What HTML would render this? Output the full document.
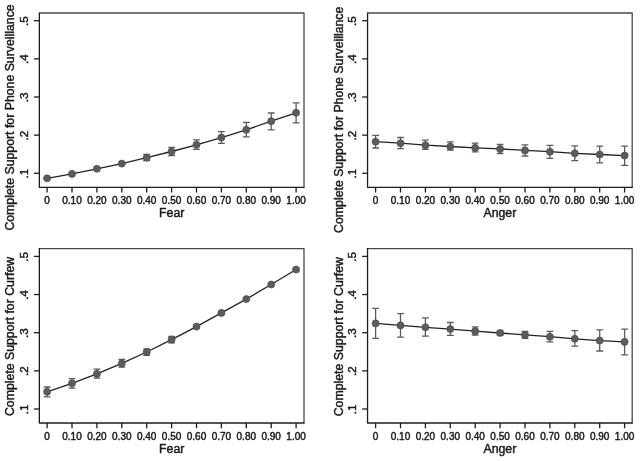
<!DOCTYPE html>
<html><head><meta charset="utf-8"><title>Complete support by emotion</title>
<style>
html,body{margin:0;padding:0;background:#fff;}
body{width:640px;height:461px;overflow:hidden;}
svg{display:block;}
</style></head><body>
<svg width="640" height="461" viewBox="0 0 640 461" font-family="'Liberation Sans', Arial, Helvetica, sans-serif" stroke-linecap="butt" stroke-linejoin="round">
<style>text{stroke:#1a1a1a;stroke-width:0.45px;}</style>
<rect width="640" height="461" fill="#fff"/>
<g transform="translate(0 0)"><path d="M39.35 13H304V187.3" fill="none" stroke="#4a4a4a" stroke-width="1.3"/>
<path d="M146.7 154.4V160.6M143.3 154.4H150.1M143.3 160.6H150.1" stroke="#5c5c5c" stroke-width="1.3" fill="none"/>
<path d="M171.6 147.4V155.6M168.2 147.4H175M168.2 155.6H175" stroke="#5c5c5c" stroke-width="1.3" fill="none"/>
<path d="M196.5 139.9V149.3M193.1 139.9H199.9M193.1 149.3H199.9" stroke="#5c5c5c" stroke-width="1.3" fill="none"/>
<path d="M221.4 131.7V143.4M218 131.7H224.8M218 143.4H224.8" stroke="#5c5c5c" stroke-width="1.3" fill="none"/>
<path d="M246.3 122.3V136.9M242.9 122.3H249.7M242.9 136.9H249.7" stroke="#5c5c5c" stroke-width="1.3" fill="none"/>
<path d="M271.2 113V129.8M267.8 113H274.6M267.8 129.8H274.6" stroke="#5c5c5c" stroke-width="1.3" fill="none"/>
<path d="M296.1 102.9V122.8M292.7 102.9H299.5M292.7 122.8H299.5" stroke="#5c5c5c" stroke-width="1.3" fill="none"/>
<path d="M47.1 178.3 L72 173.9 L96.9 168.8 L121.8 163.6 L146.7 157.6 L171.6 151.5 L196.5 144.8 L221.4 137.6 L246.3 129.8 L271.2 121.2 L296.1 112.8" stroke="#222222" stroke-width="1.3" fill="none"/>
<circle cx="47.1" cy="178.3" r="3.55" fill="#5c5c5c" stroke="#474747" stroke-width="0.6"/>
<circle cx="72" cy="173.9" r="3.55" fill="#5c5c5c" stroke="#474747" stroke-width="0.6"/>
<circle cx="96.9" cy="168.8" r="3.55" fill="#5c5c5c" stroke="#474747" stroke-width="0.6"/>
<circle cx="121.8" cy="163.6" r="3.55" fill="#5c5c5c" stroke="#474747" stroke-width="0.6"/>
<circle cx="146.7" cy="157.6" r="3.55" fill="#5c5c5c" stroke="#474747" stroke-width="0.6"/>
<circle cx="171.6" cy="151.5" r="3.55" fill="#5c5c5c" stroke="#474747" stroke-width="0.6"/>
<circle cx="196.5" cy="144.8" r="3.55" fill="#5c5c5c" stroke="#474747" stroke-width="0.6"/>
<circle cx="221.4" cy="137.6" r="3.55" fill="#5c5c5c" stroke="#474747" stroke-width="0.6"/>
<circle cx="246.3" cy="129.8" r="3.55" fill="#5c5c5c" stroke="#474747" stroke-width="0.6"/>
<circle cx="271.2" cy="121.2" r="3.55" fill="#5c5c5c" stroke="#474747" stroke-width="0.6"/>
<circle cx="296.1" cy="112.8" r="3.55" fill="#5c5c5c" stroke="#474747" stroke-width="0.6"/>
<path d="M39.35 12.4V187.3H304.6" fill="none" stroke="#1c1c1c" stroke-width="1.3"/>
<path d="M33.95 173.3H39.35" stroke="#1c1c1c" stroke-width="1.3"/>
<text x="0" y="0" transform="translate(28.2 173.7) rotate(-90)" text-anchor="middle" font-size="11.6" fill="#1a1a1a">.1</text>
<path d="M33.95 135.15H39.35" stroke="#1c1c1c" stroke-width="1.3"/>
<text x="0" y="0" transform="translate(28.2 135.55) rotate(-90)" text-anchor="middle" font-size="11.6" fill="#1a1a1a">.2</text>
<path d="M33.95 97H39.35" stroke="#1c1c1c" stroke-width="1.3"/>
<text x="0" y="0" transform="translate(28.2 97.4) rotate(-90)" text-anchor="middle" font-size="11.6" fill="#1a1a1a">.3</text>
<path d="M33.95 58.85H39.35" stroke="#1c1c1c" stroke-width="1.3"/>
<text x="0" y="0" transform="translate(28.2 59.25) rotate(-90)" text-anchor="middle" font-size="11.6" fill="#1a1a1a">.4</text>
<path d="M33.95 20.7H39.35" stroke="#1c1c1c" stroke-width="1.3"/>
<text x="0" y="0" transform="translate(28.2 21.1) rotate(-90)" text-anchor="middle" font-size="11.6" fill="#1a1a1a">.5</text>
<path d="M47.1 187.3V192.5" stroke="#1c1c1c" stroke-width="1.3"/>
<text x="47.1" y="203.6" text-anchor="middle" font-size="10" fill="#1a1a1a">0</text>
<path d="M72 187.3V192.5" stroke="#1c1c1c" stroke-width="1.3"/>
<text x="72" y="203.6" text-anchor="middle" font-size="10" fill="#1a1a1a">0.10</text>
<path d="M96.9 187.3V192.5" stroke="#1c1c1c" stroke-width="1.3"/>
<text x="96.9" y="203.6" text-anchor="middle" font-size="10" fill="#1a1a1a">0.20</text>
<path d="M121.8 187.3V192.5" stroke="#1c1c1c" stroke-width="1.3"/>
<text x="121.8" y="203.6" text-anchor="middle" font-size="10" fill="#1a1a1a">0.30</text>
<path d="M146.7 187.3V192.5" stroke="#1c1c1c" stroke-width="1.3"/>
<text x="146.7" y="203.6" text-anchor="middle" font-size="10" fill="#1a1a1a">0.40</text>
<path d="M171.6 187.3V192.5" stroke="#1c1c1c" stroke-width="1.3"/>
<text x="171.6" y="203.6" text-anchor="middle" font-size="10" fill="#1a1a1a">0.50</text>
<path d="M196.5 187.3V192.5" stroke="#1c1c1c" stroke-width="1.3"/>
<text x="196.5" y="203.6" text-anchor="middle" font-size="10" fill="#1a1a1a">0.60</text>
<path d="M221.4 187.3V192.5" stroke="#1c1c1c" stroke-width="1.3"/>
<text x="221.4" y="203.6" text-anchor="middle" font-size="10" fill="#1a1a1a">0.70</text>
<path d="M246.3 187.3V192.5" stroke="#1c1c1c" stroke-width="1.3"/>
<text x="246.3" y="203.6" text-anchor="middle" font-size="10" fill="#1a1a1a">0.80</text>
<path d="M271.2 187.3V192.5" stroke="#1c1c1c" stroke-width="1.3"/>
<text x="271.2" y="203.6" text-anchor="middle" font-size="10" fill="#1a1a1a">0.90</text>
<path d="M296.1 187.3V192.5" stroke="#1c1c1c" stroke-width="1.3"/>
<text x="296.1" y="203.6" text-anchor="middle" font-size="10" fill="#1a1a1a">1.00</text>
<text x="171.68" y="217.3" text-anchor="middle" font-size="12.3" fill="#1a1a1a">Fear</text>
<text x="0" y="0" transform="translate(14.1 230.6) rotate(-90)" font-size="12.3" fill="#1a1a1a">Complete Support for Phone Surveillance</text></g>
<g transform="translate(328.2 0)"><path d="M39.35 13H304V187.3" fill="none" stroke="#4a4a4a" stroke-width="1.3"/>
<path d="M47.4 135.3V148M44 135.3H50.8M44 148H50.8" stroke="#5c5c5c" stroke-width="1.3" fill="none"/>
<path d="M72.3 137.5V148.7M68.9 137.5H75.7M68.9 148.7H75.7" stroke="#5c5c5c" stroke-width="1.3" fill="none"/>
<path d="M97.2 140.1V149.3M93.8 140.1H100.6M93.8 149.3H100.6" stroke="#5c5c5c" stroke-width="1.3" fill="none"/>
<path d="M122.1 141.9V150.2M118.7 141.9H125.5M118.7 150.2H125.5" stroke="#5c5c5c" stroke-width="1.3" fill="none"/>
<path d="M147 143.2V151.9M143.6 143.2H150.4M143.6 151.9H150.4" stroke="#5c5c5c" stroke-width="1.3" fill="none"/>
<path d="M171.9 144.3V153.5M168.5 144.3H175.3M168.5 153.5H175.3" stroke="#5c5c5c" stroke-width="1.3" fill="none"/>
<path d="M196.8 144.9V156M193.4 144.9H200.2M193.4 156H200.2" stroke="#5c5c5c" stroke-width="1.3" fill="none"/>
<path d="M221.7 145.4V158.3M218.3 145.4H225.1M218.3 158.3H225.1" stroke="#5c5c5c" stroke-width="1.3" fill="none"/>
<path d="M246.6 145.8V160.6M243.2 145.8H250M243.2 160.6H250" stroke="#5c5c5c" stroke-width="1.3" fill="none"/>
<path d="M271.5 146.1V162.8M268.1 146.1H274.9M268.1 162.8H274.9" stroke="#5c5c5c" stroke-width="1.3" fill="none"/>
<path d="M296.4 146.1V165.3M293 146.1H299.8M293 165.3H299.8" stroke="#5c5c5c" stroke-width="1.3" fill="none"/>
<path d="M47.4 141.7 L72.3 143.2 L97.2 145.2 L122.1 146.5 L147 147.8 L171.9 148.9 L196.8 150.4 L221.7 151.7 L246.6 153.3 L271.5 154.5 L296.4 155.6" stroke="#222222" stroke-width="1.3" fill="none"/>
<circle cx="47.4" cy="141.7" r="3.55" fill="#5c5c5c" stroke="#474747" stroke-width="0.6"/>
<circle cx="72.3" cy="143.2" r="3.55" fill="#5c5c5c" stroke="#474747" stroke-width="0.6"/>
<circle cx="97.2" cy="145.2" r="3.55" fill="#5c5c5c" stroke="#474747" stroke-width="0.6"/>
<circle cx="122.1" cy="146.5" r="3.55" fill="#5c5c5c" stroke="#474747" stroke-width="0.6"/>
<circle cx="147" cy="147.8" r="3.55" fill="#5c5c5c" stroke="#474747" stroke-width="0.6"/>
<circle cx="171.9" cy="148.9" r="3.55" fill="#5c5c5c" stroke="#474747" stroke-width="0.6"/>
<circle cx="196.8" cy="150.4" r="3.55" fill="#5c5c5c" stroke="#474747" stroke-width="0.6"/>
<circle cx="221.7" cy="151.7" r="3.55" fill="#5c5c5c" stroke="#474747" stroke-width="0.6"/>
<circle cx="246.6" cy="153.3" r="3.55" fill="#5c5c5c" stroke="#474747" stroke-width="0.6"/>
<circle cx="271.5" cy="154.5" r="3.55" fill="#5c5c5c" stroke="#474747" stroke-width="0.6"/>
<circle cx="296.4" cy="155.6" r="3.55" fill="#5c5c5c" stroke="#474747" stroke-width="0.6"/>
<path d="M39.35 12.4V187.3H304.6" fill="none" stroke="#1c1c1c" stroke-width="1.3"/>
<path d="M33.95 173.3H39.35" stroke="#1c1c1c" stroke-width="1.3"/>
<text x="0" y="0" transform="translate(28.2 173.7) rotate(-90)" text-anchor="middle" font-size="11.6" fill="#1a1a1a">.1</text>
<path d="M33.95 135.15H39.35" stroke="#1c1c1c" stroke-width="1.3"/>
<text x="0" y="0" transform="translate(28.2 135.55) rotate(-90)" text-anchor="middle" font-size="11.6" fill="#1a1a1a">.2</text>
<path d="M33.95 97H39.35" stroke="#1c1c1c" stroke-width="1.3"/>
<text x="0" y="0" transform="translate(28.2 97.4) rotate(-90)" text-anchor="middle" font-size="11.6" fill="#1a1a1a">.3</text>
<path d="M33.95 58.85H39.35" stroke="#1c1c1c" stroke-width="1.3"/>
<text x="0" y="0" transform="translate(28.2 59.25) rotate(-90)" text-anchor="middle" font-size="11.6" fill="#1a1a1a">.4</text>
<path d="M33.95 20.7H39.35" stroke="#1c1c1c" stroke-width="1.3"/>
<text x="0" y="0" transform="translate(28.2 21.1) rotate(-90)" text-anchor="middle" font-size="11.6" fill="#1a1a1a">.5</text>
<path d="M47.4 187.3V192.5" stroke="#1c1c1c" stroke-width="1.3"/>
<text x="47.4" y="203.6" text-anchor="middle" font-size="10" fill="#1a1a1a">0</text>
<path d="M72.3 187.3V192.5" stroke="#1c1c1c" stroke-width="1.3"/>
<text x="72.3" y="203.6" text-anchor="middle" font-size="10" fill="#1a1a1a">0.10</text>
<path d="M97.2 187.3V192.5" stroke="#1c1c1c" stroke-width="1.3"/>
<text x="97.2" y="203.6" text-anchor="middle" font-size="10" fill="#1a1a1a">0.20</text>
<path d="M122.1 187.3V192.5" stroke="#1c1c1c" stroke-width="1.3"/>
<text x="122.1" y="203.6" text-anchor="middle" font-size="10" fill="#1a1a1a">0.30</text>
<path d="M147 187.3V192.5" stroke="#1c1c1c" stroke-width="1.3"/>
<text x="147" y="203.6" text-anchor="middle" font-size="10" fill="#1a1a1a">0.40</text>
<path d="M171.9 187.3V192.5" stroke="#1c1c1c" stroke-width="1.3"/>
<text x="171.9" y="203.6" text-anchor="middle" font-size="10" fill="#1a1a1a">0.50</text>
<path d="M196.8 187.3V192.5" stroke="#1c1c1c" stroke-width="1.3"/>
<text x="196.8" y="203.6" text-anchor="middle" font-size="10" fill="#1a1a1a">0.60</text>
<path d="M221.7 187.3V192.5" stroke="#1c1c1c" stroke-width="1.3"/>
<text x="221.7" y="203.6" text-anchor="middle" font-size="10" fill="#1a1a1a">0.70</text>
<path d="M246.6 187.3V192.5" stroke="#1c1c1c" stroke-width="1.3"/>
<text x="246.6" y="203.6" text-anchor="middle" font-size="10" fill="#1a1a1a">0.80</text>
<path d="M271.5 187.3V192.5" stroke="#1c1c1c" stroke-width="1.3"/>
<text x="271.5" y="203.6" text-anchor="middle" font-size="10" fill="#1a1a1a">0.90</text>
<path d="M296.4 187.3V192.5" stroke="#1c1c1c" stroke-width="1.3"/>
<text x="296.4" y="203.6" text-anchor="middle" font-size="10" fill="#1a1a1a">1.00</text>
<text x="171.68" y="217.3" text-anchor="middle" font-size="12.3" fill="#1a1a1a">Anger</text>
<text x="0" y="0" transform="translate(15 232.9) rotate(-90)" font-size="12.3" fill="#1a1a1a">Complete Support for Phone Surveillance</text></g>
<g transform="translate(0 235.7)"><path d="M39.35 13H304V187.3" fill="none" stroke="#4a4a4a" stroke-width="1.3"/>
<path d="M47.1 151.3V161.2M43.7 151.3H50.5M43.7 161.2H50.5" stroke="#5c5c5c" stroke-width="1.3" fill="none"/>
<path d="M72 143V152.4M68.6 143H75.4M68.6 152.4H75.4" stroke="#5c5c5c" stroke-width="1.3" fill="none"/>
<path d="M96.9 133.4V142.4M93.5 133.4H100.3M93.5 142.4H100.3" stroke="#5c5c5c" stroke-width="1.3" fill="none"/>
<path d="M121.8 123.6V131.4M118.4 123.6H125.2M118.4 131.4H125.2" stroke="#5c5c5c" stroke-width="1.3" fill="none"/>
<path d="M146.7 113.1V119.6M143.3 113.1H150.1M143.3 119.6H150.1" stroke="#5c5c5c" stroke-width="1.3" fill="none"/>
<path d="M171.6 100.6V107.2M168.2 100.6H175M168.2 107.2H175" stroke="#5c5c5c" stroke-width="1.3" fill="none"/>
<path d="M47.1 156.1 L72 147.6 L96.9 138.2 L121.8 127.7 L146.7 116.3 L171.6 103.9 L196.5 90.9 L221.4 77.2 L246.3 63.4 L271.2 48.8 L296.1 33.8" stroke="#222222" stroke-width="1.3" fill="none"/>
<circle cx="47.1" cy="156.1" r="3.55" fill="#5c5c5c" stroke="#474747" stroke-width="0.6"/>
<circle cx="72" cy="147.6" r="3.55" fill="#5c5c5c" stroke="#474747" stroke-width="0.6"/>
<circle cx="96.9" cy="138.2" r="3.55" fill="#5c5c5c" stroke="#474747" stroke-width="0.6"/>
<circle cx="121.8" cy="127.7" r="3.55" fill="#5c5c5c" stroke="#474747" stroke-width="0.6"/>
<circle cx="146.7" cy="116.3" r="3.55" fill="#5c5c5c" stroke="#474747" stroke-width="0.6"/>
<circle cx="171.6" cy="103.9" r="3.55" fill="#5c5c5c" stroke="#474747" stroke-width="0.6"/>
<circle cx="196.5" cy="90.9" r="3.55" fill="#5c5c5c" stroke="#474747" stroke-width="0.6"/>
<circle cx="221.4" cy="77.2" r="3.55" fill="#5c5c5c" stroke="#474747" stroke-width="0.6"/>
<circle cx="246.3" cy="63.4" r="3.55" fill="#5c5c5c" stroke="#474747" stroke-width="0.6"/>
<circle cx="271.2" cy="48.8" r="3.55" fill="#5c5c5c" stroke="#474747" stroke-width="0.6"/>
<circle cx="296.1" cy="33.8" r="3.55" fill="#5c5c5c" stroke="#474747" stroke-width="0.6"/>
<path d="M39.35 12.4V187.3H304.6" fill="none" stroke="#1c1c1c" stroke-width="1.3"/>
<path d="M33.95 173.3H39.35" stroke="#1c1c1c" stroke-width="1.3"/>
<text x="0" y="0" transform="translate(28.2 173.7) rotate(-90)" text-anchor="middle" font-size="11.6" fill="#1a1a1a">.1</text>
<path d="M33.95 135.15H39.35" stroke="#1c1c1c" stroke-width="1.3"/>
<text x="0" y="0" transform="translate(28.2 135.55) rotate(-90)" text-anchor="middle" font-size="11.6" fill="#1a1a1a">.2</text>
<path d="M33.95 97H39.35" stroke="#1c1c1c" stroke-width="1.3"/>
<text x="0" y="0" transform="translate(28.2 97.4) rotate(-90)" text-anchor="middle" font-size="11.6" fill="#1a1a1a">.3</text>
<path d="M33.95 58.85H39.35" stroke="#1c1c1c" stroke-width="1.3"/>
<text x="0" y="0" transform="translate(28.2 59.25) rotate(-90)" text-anchor="middle" font-size="11.6" fill="#1a1a1a">.4</text>
<path d="M33.95 20.7H39.35" stroke="#1c1c1c" stroke-width="1.3"/>
<text x="0" y="0" transform="translate(28.2 21.1) rotate(-90)" text-anchor="middle" font-size="11.6" fill="#1a1a1a">.5</text>
<path d="M47.1 187.3V192.5" stroke="#1c1c1c" stroke-width="1.3"/>
<text x="47.1" y="204.1" text-anchor="middle" font-size="10" fill="#1a1a1a">0</text>
<path d="M72 187.3V192.5" stroke="#1c1c1c" stroke-width="1.3"/>
<text x="72" y="204.1" text-anchor="middle" font-size="10" fill="#1a1a1a">0.10</text>
<path d="M96.9 187.3V192.5" stroke="#1c1c1c" stroke-width="1.3"/>
<text x="96.9" y="204.1" text-anchor="middle" font-size="10" fill="#1a1a1a">0.20</text>
<path d="M121.8 187.3V192.5" stroke="#1c1c1c" stroke-width="1.3"/>
<text x="121.8" y="204.1" text-anchor="middle" font-size="10" fill="#1a1a1a">0.30</text>
<path d="M146.7 187.3V192.5" stroke="#1c1c1c" stroke-width="1.3"/>
<text x="146.7" y="204.1" text-anchor="middle" font-size="10" fill="#1a1a1a">0.40</text>
<path d="M171.6 187.3V192.5" stroke="#1c1c1c" stroke-width="1.3"/>
<text x="171.6" y="204.1" text-anchor="middle" font-size="10" fill="#1a1a1a">0.50</text>
<path d="M196.5 187.3V192.5" stroke="#1c1c1c" stroke-width="1.3"/>
<text x="196.5" y="204.1" text-anchor="middle" font-size="10" fill="#1a1a1a">0.60</text>
<path d="M221.4 187.3V192.5" stroke="#1c1c1c" stroke-width="1.3"/>
<text x="221.4" y="204.1" text-anchor="middle" font-size="10" fill="#1a1a1a">0.70</text>
<path d="M246.3 187.3V192.5" stroke="#1c1c1c" stroke-width="1.3"/>
<text x="246.3" y="204.1" text-anchor="middle" font-size="10" fill="#1a1a1a">0.80</text>
<path d="M271.2 187.3V192.5" stroke="#1c1c1c" stroke-width="1.3"/>
<text x="271.2" y="204.1" text-anchor="middle" font-size="10" fill="#1a1a1a">0.90</text>
<path d="M296.1 187.3V192.5" stroke="#1c1c1c" stroke-width="1.3"/>
<text x="296.1" y="204.1" text-anchor="middle" font-size="10" fill="#1a1a1a">1.00</text>
<text x="171.68" y="217.3" text-anchor="middle" font-size="12.3" fill="#1a1a1a">Fear</text>
<text x="0" y="0" transform="translate(14.1 100.75) rotate(-90)" text-anchor="middle" font-size="12.3" fill="#1a1a1a">Complete Support for Curfew</text></g>
<g transform="translate(328.2 235.7)"><path d="M39.35 13H304V187.3" fill="none" stroke="#4a4a4a" stroke-width="1.3"/>
<path d="M47.4 72.7V102.6M44 72.7H50.8M44 102.6H50.8" stroke="#5c5c5c" stroke-width="1.3" fill="none"/>
<path d="M72.3 77.9V101.5M68.9 77.9H75.7M68.9 101.5H75.7" stroke="#5c5c5c" stroke-width="1.3" fill="none"/>
<path d="M97.2 82.2V100.4M93.8 82.2H100.6M93.8 100.4H100.6" stroke="#5c5c5c" stroke-width="1.3" fill="none"/>
<path d="M122.1 86.8V99.7M118.7 86.8H125.5M118.7 99.7H125.5" stroke="#5c5c5c" stroke-width="1.3" fill="none"/>
<path d="M147 91.2V99.3M143.6 91.2H150.4M143.6 99.3H150.4" stroke="#5c5c5c" stroke-width="1.3" fill="none"/>
<path d="M171.9 95.2V99.3M168.5 95.2H175.3M168.5 99.3H175.3" stroke="#5c5c5c" stroke-width="1.3" fill="none"/>
<path d="M196.8 95.7V102.7M193.4 95.7H200.2M193.4 102.7H200.2" stroke="#5c5c5c" stroke-width="1.3" fill="none"/>
<path d="M221.7 95.6V106.2M218.3 95.6H225.1M218.3 106.2H225.1" stroke="#5c5c5c" stroke-width="1.3" fill="none"/>
<path d="M246.6 94.9V110.5M243.2 94.9H250M243.2 110.5H250" stroke="#5c5c5c" stroke-width="1.3" fill="none"/>
<path d="M271.5 94.2V115.3M268.1 94.2H274.9M268.1 115.3H274.9" stroke="#5c5c5c" stroke-width="1.3" fill="none"/>
<path d="M296.4 93.5V119.1M293 93.5H299.8M293 119.1H299.8" stroke="#5c5c5c" stroke-width="1.3" fill="none"/>
<path d="M47.4 87.7 L72.3 89.7 L97.2 91.6 L122.1 93.4 L147 95.4 L171.9 97.3 L196.8 99.2 L221.7 101 L246.6 103.1 L271.5 104.9 L296.4 106.2" stroke="#222222" stroke-width="1.3" fill="none"/>
<circle cx="47.4" cy="87.7" r="3.55" fill="#5c5c5c" stroke="#474747" stroke-width="0.6"/>
<circle cx="72.3" cy="89.7" r="3.55" fill="#5c5c5c" stroke="#474747" stroke-width="0.6"/>
<circle cx="97.2" cy="91.6" r="3.55" fill="#5c5c5c" stroke="#474747" stroke-width="0.6"/>
<circle cx="122.1" cy="93.4" r="3.55" fill="#5c5c5c" stroke="#474747" stroke-width="0.6"/>
<circle cx="147" cy="95.4" r="3.55" fill="#5c5c5c" stroke="#474747" stroke-width="0.6"/>
<circle cx="171.9" cy="97.3" r="3.55" fill="#5c5c5c" stroke="#474747" stroke-width="0.6"/>
<circle cx="196.8" cy="99.2" r="3.55" fill="#5c5c5c" stroke="#474747" stroke-width="0.6"/>
<circle cx="221.7" cy="101" r="3.55" fill="#5c5c5c" stroke="#474747" stroke-width="0.6"/>
<circle cx="246.6" cy="103.1" r="3.55" fill="#5c5c5c" stroke="#474747" stroke-width="0.6"/>
<circle cx="271.5" cy="104.9" r="3.55" fill="#5c5c5c" stroke="#474747" stroke-width="0.6"/>
<circle cx="296.4" cy="106.2" r="3.55" fill="#5c5c5c" stroke="#474747" stroke-width="0.6"/>
<path d="M39.35 12.4V187.3H304.6" fill="none" stroke="#1c1c1c" stroke-width="1.3"/>
<path d="M33.95 173.3H39.35" stroke="#1c1c1c" stroke-width="1.3"/>
<text x="0" y="0" transform="translate(28.2 173.7) rotate(-90)" text-anchor="middle" font-size="11.6" fill="#1a1a1a">.1</text>
<path d="M33.95 135.15H39.35" stroke="#1c1c1c" stroke-width="1.3"/>
<text x="0" y="0" transform="translate(28.2 135.55) rotate(-90)" text-anchor="middle" font-size="11.6" fill="#1a1a1a">.2</text>
<path d="M33.95 97H39.35" stroke="#1c1c1c" stroke-width="1.3"/>
<text x="0" y="0" transform="translate(28.2 97.4) rotate(-90)" text-anchor="middle" font-size="11.6" fill="#1a1a1a">.3</text>
<path d="M33.95 58.85H39.35" stroke="#1c1c1c" stroke-width="1.3"/>
<text x="0" y="0" transform="translate(28.2 59.25) rotate(-90)" text-anchor="middle" font-size="11.6" fill="#1a1a1a">.4</text>
<path d="M33.95 20.7H39.35" stroke="#1c1c1c" stroke-width="1.3"/>
<text x="0" y="0" transform="translate(28.2 21.1) rotate(-90)" text-anchor="middle" font-size="11.6" fill="#1a1a1a">.5</text>
<path d="M47.4 187.3V192.5" stroke="#1c1c1c" stroke-width="1.3"/>
<text x="47.4" y="204.1" text-anchor="middle" font-size="10" fill="#1a1a1a">0</text>
<path d="M72.3 187.3V192.5" stroke="#1c1c1c" stroke-width="1.3"/>
<text x="72.3" y="204.1" text-anchor="middle" font-size="10" fill="#1a1a1a">0.10</text>
<path d="M97.2 187.3V192.5" stroke="#1c1c1c" stroke-width="1.3"/>
<text x="97.2" y="204.1" text-anchor="middle" font-size="10" fill="#1a1a1a">0.20</text>
<path d="M122.1 187.3V192.5" stroke="#1c1c1c" stroke-width="1.3"/>
<text x="122.1" y="204.1" text-anchor="middle" font-size="10" fill="#1a1a1a">0.30</text>
<path d="M147 187.3V192.5" stroke="#1c1c1c" stroke-width="1.3"/>
<text x="147" y="204.1" text-anchor="middle" font-size="10" fill="#1a1a1a">0.40</text>
<path d="M171.9 187.3V192.5" stroke="#1c1c1c" stroke-width="1.3"/>
<text x="171.9" y="204.1" text-anchor="middle" font-size="10" fill="#1a1a1a">0.50</text>
<path d="M196.8 187.3V192.5" stroke="#1c1c1c" stroke-width="1.3"/>
<text x="196.8" y="204.1" text-anchor="middle" font-size="10" fill="#1a1a1a">0.60</text>
<path d="M221.7 187.3V192.5" stroke="#1c1c1c" stroke-width="1.3"/>
<text x="221.7" y="204.1" text-anchor="middle" font-size="10" fill="#1a1a1a">0.70</text>
<path d="M246.6 187.3V192.5" stroke="#1c1c1c" stroke-width="1.3"/>
<text x="246.6" y="204.1" text-anchor="middle" font-size="10" fill="#1a1a1a">0.80</text>
<path d="M271.5 187.3V192.5" stroke="#1c1c1c" stroke-width="1.3"/>
<text x="271.5" y="204.1" text-anchor="middle" font-size="10" fill="#1a1a1a">0.90</text>
<path d="M296.4 187.3V192.5" stroke="#1c1c1c" stroke-width="1.3"/>
<text x="296.4" y="204.1" text-anchor="middle" font-size="10" fill="#1a1a1a">1.00</text>
<text x="171.68" y="217.3" text-anchor="middle" font-size="12.3" fill="#1a1a1a">Anger</text>
<text x="0" y="0" transform="translate(14.5 100.95) rotate(-90)" text-anchor="middle" font-size="12.3" fill="#1a1a1a">Complete Support for Curfew</text></g>
</svg>
</body></html>
